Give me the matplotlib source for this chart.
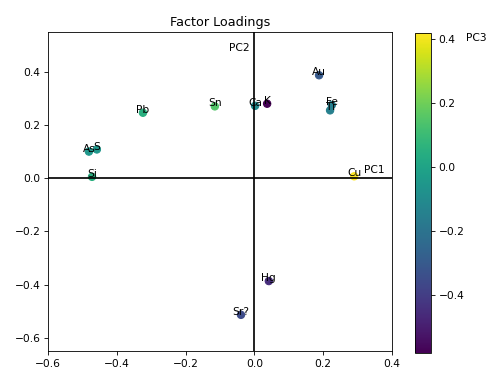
import matplotlib

matplotlib.use("Agg")
import matplotlib.pyplot as plt

# cargas factoriales (PC1, PC2) y color por PC3
elements = ["Au", "Ca", "K", "Fe", "Ti", "Sn", "Pb", "As", "S", "Si", "Cu", "Hg", "Sr?"]
pc1 = [0.188, 0.002, 0.037, 0.225, 0.220, -0.115, -0.324, -0.481, -0.458, -0.472, 0.290, 0.042, -0.039]
pc2 = [0.387, 0.272, 0.280, 0.275, 0.255, 0.270, 0.246, 0.100, 0.108, 0.005, 0.007, -0.387, -0.514]
pc3 = [-0.30, -0.10, -0.58, -0.15, -0.15, 0.15, 0.05, -0.05, -0.05, 0.05, 0.42, -0.45, -0.35]

fig = plt.figure(figsize=(6.4, 4.88), dpi=76.25)
ax = fig.add_axes([48 / 488, 21 / 372, 344 / 488, 319 / 372])
cax = fig.add_axes([415 / 488, 19 / 372, 16 / 488, 320 / 372])

sc = ax.scatter(pc1, pc2, c=pc3, cmap="viridis", s=48)
for name, x, y in zip(elements, pc1, pc2):
    ax.text(x, y, name, ha="center", va="baseline")

ax.axhline(0, color="black", lw=1.6)
ax.axvline(0, color="black", lw=1.6)
ax.text(0.32, 0.02, "PC1")
ax.text(-0.015, 0.48, "PC2", ha="right")

ax.set_xlim(-0.6, 0.4)
ax.set_ylim(-0.65, 0.55)
ax.set_title("Factor Loadings")

cbar = fig.colorbar(sc, cax=cax)
cbar.ax.text(3.2, 0.975, "PC3", transform=cbar.ax.transAxes)

fig.savefig("out.png", dpi=76.25)
